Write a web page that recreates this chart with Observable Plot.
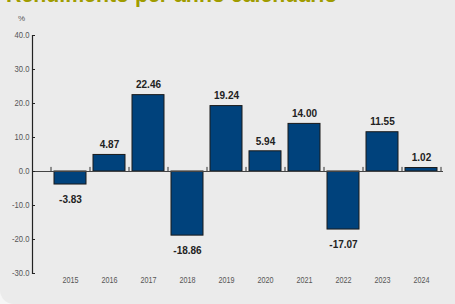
<!DOCTYPE html>
<html><head><meta charset="utf-8">
<script src="https://cdn.jsdelivr.net/npm/d3@7"></script>
<script src="https://cdn.jsdelivr.net/npm/@observablehq/plot@0.6"></script>
<style>
html,body{margin:0;padding:0;background:#f6f6f6;}
#wrap{position:relative;width:455px;height:304px;background:#ebebeb;overflow:hidden;border-bottom-left-radius:14px;}
#title{position:absolute;left:6px;top:-17px;line-height:21px;font:bold 21.3px "Liberation Sans",Arial,sans-serif;color:#a09c00;white-space:nowrap;}
#unit{position:absolute;left:18px;top:14px;font:8px "Liberation Sans",Arial,sans-serif;color:#555;}
#chart{position:absolute;left:0;top:0;}
</style>
</head><body>
<div id="wrap">
<div id="title">Rendimento per anno calendario</div>
<div id="chart"></div>
<div id="unit">%</div>
</div>
<script>
const years = ["2015","2016","2017","2018","2019","2020","2021","2022","2023","2024"];
const returns = [-3.83, 4.87, 22.46, -18.86, 19.24, 5.94, 14.00, -17.07, 11.55, 1.02];
const yTicks = [-30,-20,-10,0,10,20,30,40];

const data = years.map((year, i) => ({year, value: returns[i]}));
const font = '"Liberation Sans",Arial,sans-serif';

const chart = Plot.plot({
  width: 455, height: 304,
  marginLeft: 32, marginRight: 12, marginTop: 35, marginBottom: 31,
  style: {background: "transparent", fontFamily: font, fontSize: "8px", color: "#555"},
  x: {domain: years, range: [50, 440], paddingInner: 0.18, paddingOuter: 0.09, label: null},
  y: {domain: [-30, 40], label: null},
  marks: [
    Plot.barY(data, {x: "year", y: "value", fill: "#00427c", stroke: "#1a1a1a", strokeWidth: 1}),
    Plot.ruleY([0], {stroke: "#444", strokeWidth: 1.2}),
    Plot.ruleX(years, {x: d => d, dx: -19.5, y1: 0, y2: 1.2, stroke: "#333"}),
    Plot.ruleX([years[years.length - 1]], {x: d => d, dx: 19.5, y1: 0, y2: 1.2, stroke: "#333"}),
    Plot.frame({anchor: "left", stroke: "#222", strokeWidth: 1.2}),
    Plot.axisY(yTicks, {tickSize: 3, dx: 3, tickFormat: () => "", stroke: "#222"}),
    Plot.axisY(yTicks, {tickSize: 0, tickPadding: 3, tickFormat: d => d.toFixed(1), fill: "#555", fontSize: 8.5}),
    Plot.axisX(years, {tickSize: 0, tickPadding: 3, fill: "#555", fontSize: 9}),
    Plot.text(data.filter(d => d.value >= 0), {x: "year", y: "value", text: d => d.value.toFixed(2), dy: -10, fontSize: 10, fontWeight: "bold", fill: "#222", ariaLabel: "vlabels"}),
    Plot.text(data.filter(d => d.value < 0), {x: "year", y: "value", text: d => d.value.toFixed(2), dy: 15, fontSize: 10, fontWeight: "bold", fill: "#222", ariaLabel: "vlabels"})
  ]
});

// condense text horizontally (reference uses a narrow typeface)
function condense(selector, k) {
  chart.querySelectorAll(selector).forEach(t => {
    let tr = t.getAttribute("transform") || "";
    const x = t.getAttribute("x");
    if (x != null && x !== "" && !isNaN(+x)) { tr += ` translate(${x},0)`; t.removeAttribute("x"); }
    t.setAttribute("transform", (tr + ` scale(${k},1)`).trim());
  });
}
condense('g[aria-label="y-axis tick label"] text', 0.9);
condense('g[aria-label="x-axis tick label"] text', 0.8);
condense('g[aria-label="vlabels"] text', 0.87);

document.getElementById("chart").append(chart);
</script>
</body></html>
